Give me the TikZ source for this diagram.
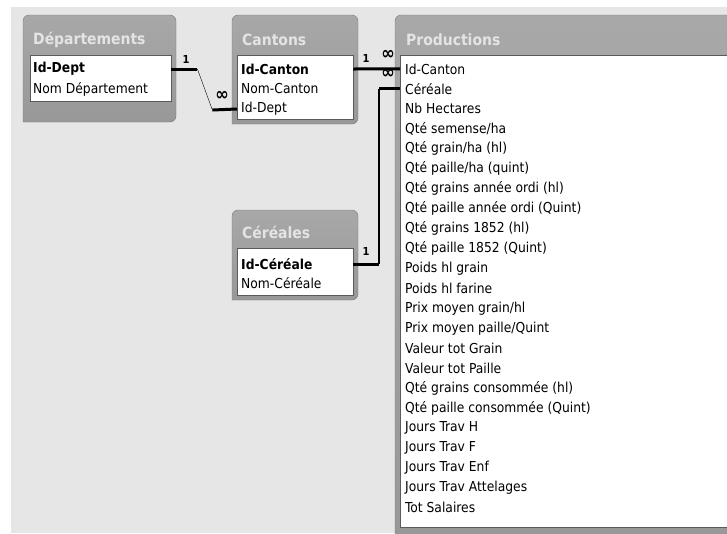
\documentclass[tikz,border=0pt]{standalone}
\usepackage{fontspec}
\newfontfamily\listfont{DejaVu Sans Condensed}[BoldFont={DejaVu Sans Condensed Bold}]
\definecolor{canvas}{HTML}{E6E6E6}
\definecolor{frametop}{HTML}{A8A8A8}
\definecolor{framebot}{HTML}{989898}
\definecolor{frameline}{HTML}{7A7A7A}
\definecolor{listline}{HTML}{5A5A5A}
\definecolor{titletext}{HTML}{E4E4E4}
\tikzset{
  frame/.style={draw=frameline, top color=frametop, bottom color=framebot},
  listbox/.style={draw=listline, fill=white, anchor=north west, inner sep=0pt},
  title/.style={anchor=west, inner sep=0pt, text=titletext,
    font=\listfont\fontsize{15.5}{18}\selectfont\bfseries},
  field/.style={anchor=west, inner sep=0pt, font=\listfont\fontsize{13.7}{16}\selectfont},
  key/.style={line width=3pt},
  card/.style={inner sep=0pt, font=\listfont\fontsize{11}{12}\selectfont\bfseries},
  many/.style={inner sep=0pt, font=\listfont\fontsize{18}{18}\selectfont\bfseries},
}

\begin{document}
\begin{tikzpicture}[x=1pt, y=-1pt]
    \useasboundingbox (0,0) rectangle (727,533);
    \clip (0,0) rectangle (727,533);
% Background
    \fill[white] (0,0) rectangle (727,533);
    \fill[canvas] (11,7) rectangle (727,533);
% Frames
    \draw[frame] (23,122) [rounded corners=6pt] -- (23,15) -- (176,15) -- (176,122) [sharp corners] -- cycle;
    \draw[frame] (232,124) [rounded corners=6pt] -- (232,15) -- (358,15) -- (358,124) [sharp corners] -- cycle;
    \draw[frame] (232,300) [rounded corners=6pt] -- (232,210) -- (358,210) -- (358,300) [sharp corners] -- cycle;
    \draw[frame] (395,540) [rounded corners=6pt] -- (395,15) -- (740,15) -- (740,540) [sharp corners] -- cycle;
% Titles
    \node[title] (dept-title) at (33,40) {Départements};
    \node[title] (canton-title) at (242,40) {Cantons};
    \node[title] (cereal-title) at (242,232) {Céréales};
    \node[title] (prod-title) at (406,40) {Productions};
% Lists
    \node[listbox, minimum width=141pt, minimum height=46pt] (dept-list) at (30,55) {};
    \node[listbox, minimum width=116pt, minimum height=64pt] (canton-list) at (237,55) {};
    \node[listbox, minimum width=116pt, minimum height=47pt] (cereal-list) at (237,248) {};
    \node[listbox, minimum width=340pt, minimum height=472pt] (prod-list) at (400,55) {};
% Fields
    \node[field] (dept-id) at (33,69) {\bfseries Id-Dept};
    \node[field] (dept-name) at (33,89) {Nom Département};
    \node[field] (canton-id) at (241,69) {\bfseries Id-Canton};
    \node[field] (canton-name) at (241,89) {Nom-Canton};
    \node[field] (canton-dept) at (241,109) {Id-Dept};
    \node[field] (cereal-id) at (241,264) {\bfseries Id-Céréale};
    \node[field] (cereal-name) at (241,283) {Nom-Céréale};
    \foreach \f [count=\i] in {{Id-Canton}, {Céréale}, {Nb Hectares}, {Qté semense/ha},
        {Qté grain/ha (hl)}, {Qté paille/ha (quint)}, {Qté grains année ordi (hl)},
        {Qté paille année ordi (Quint)}, {Qté grains 1852 (hl)}, {Qté paille 1852 (Quint)},
        {Poids hl grain}, {Poids hl farine}, {Prix moyen grain/hl}, {Prix moyen paille/Quint},
        {Valeur tot Grain}, {Valeur tot Paille}, {Qté grains consommée (hl)},
        {Qté paille consommée (Quint)}, {Jours Trav H}, {Jours Trav F}, {Jours Trav Enf},
        {Jours Trav Attelages}, {Tot Salaires}}
        \node[field] (prod-\i) at (405,{49+19.95*\i}) {\f};
% Relations
    \draw[key] (dept-list.east |- dept-id) -- ++(26,0) coordinate (dc-a);
    \draw[thin] (dc-a) -- ++(15,41) coordinate (dc-b);
    \draw[key] (dc-b) -- (canton-list.west |- canton-dept);
    \draw[key] (canton-list.east |- canton-id) -- (prod-list.west |- prod-1);
    \draw[key] (cereal-list.east |- cereal-id) -- ++(26,0) coordinate (cp-a);
    \draw[line width=2pt] (cp-a) -- (cp-a |- prod-2);
    \draw[key] (cp-a |- prod-2) -- (prod-list.west |- prod-2);
% Cardinalities
    \node[card] (dc-one) at (186,59) {1};
    \node[many] (dc-many) at (222,96) {∞};
    \node[card] (cp-one-a) at (366,58) {1};
    \node[many] (cp-many-a) at (388,55) {∞};
    \node[card] (cp-one-b) at (366,251) {1};
    \node[many] (cp-many-b) at (388,74) {∞};
\end{tikzpicture}
\end{document}
